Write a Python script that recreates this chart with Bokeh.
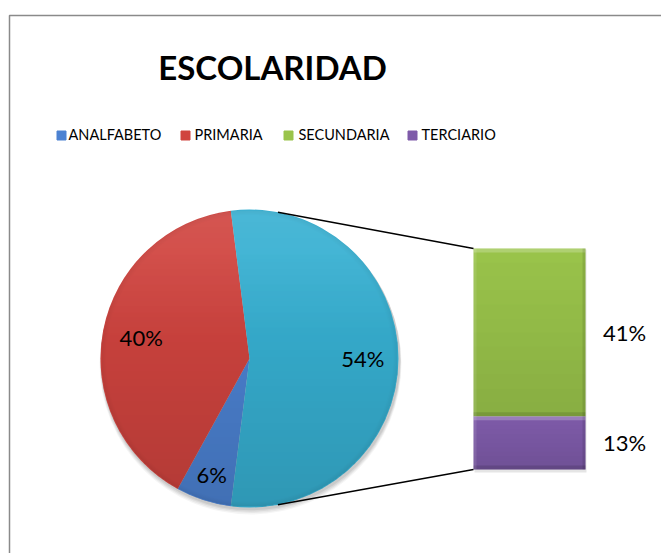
import math
import numpy as np
from bokeh.plotting import figure
from bokeh.models import Range1d, ColumnDataSource
from bokeh.core.properties import value
from bokeh.embed import file_html
from bokeh.resources import INLINE

# ---- data ----
title = "ESCOLARIDAD"
categories = ["ANALFABETO", "PRIMARIA", "SECUNDARIA", "TERCIARIO"]
percentages = [6, 40, 41, 13]
colors = ["#4C82D2", "#D0443F", "#9AC44B", "#7E5BA9"]
other_color = "#37B0D2"

FONT = "Lato"

# ---- layout (screen px) ----
W, H = 661, 553
p = figure(width=W, height=H, x_range=Range1d(0, W), y_range=Range1d(-H, 0),
           output_backend="svg", toolbar_location=None, min_border=0,
           x_axis_location=None, y_axis_location=None)
p.grid.visible = False
p.outline_line_color = None
p.background_fill_color = "white"
p.border_fill_color = "white"

# chart frame (cropped on right/bottom)
p.line(x=[9, 9, 700], y=[-600, -15, -15], line_color="#8A8A8A", line_width=1.5)

# title
p.text(x=[272], y=[-66], text=[title], text_font=value(FONT), text_font_style="bold",
       text_font_size="33px", text_align="center", text_baseline="middle", text_color="black")

# legend
leg_sq_x = [61, 185, 288, 412]
leg_tx_x = [68, 194, 298, 421]
p.scatter(x=leg_sq_x, y=[-135] * 4, marker="square", size=9, fill_color=colors,
          line_color=colors)
p.text(x=leg_tx_x, y=[-134] * 4, text=categories, text_font=value(FONT), text_font_size="14.5px",
       text_align="left", text_baseline="middle", text_color="black")

# ---- pie ----
cx, cy, R = 249, -358, 149
total = sum(percentages)
other = percentages[2] + percentages[3]
pie_vals = [percentages[0], percentages[1], other]
pie_cols = [colors[0], colors[1], other_color]
pie_texts = [f"{v}%" for v in pie_vals]

half = other / total * 180.0
starts, ends, mids = [], [], []
cur = -half
for v in pie_vals[:2]:
    e = cur
    s = cur - v / total * 360.0
    starts.append(s); ends.append(e); mids.append((s + e) / 2)
    cur = s
starts.append(-half); ends.append(half); mids.append(0.0)

# shadow
for k, a in [(5, 0.04), (4, 0.05), (3, 0.06), (2, 0.07)]:
    p.circle(x=[cx + 1], y=[cy - k], radius=R + k * 0.4, fill_color="black", fill_alpha=a,
             line_color=None)

src = ColumnDataSource(dict(s=[math.radians(a) for a in starts], e=[math.radians(a) for a in ends],
                            c=pie_cols))
p.wedge(x=cx, y=cy, radius=R, start_angle="s", end_angle="e", fill_color="c",
        line_color=None, source=src)

# vertical shading overlay (decoration: lighter top, darker bottom, soft rim)
n = 2 * R
yy, xx = np.mgrid[0:n, 0:n]
dx = xx + 0.5 - R
dy = yy + 0.5 - R
rr = np.sqrt(dx ** 2 + dy ** 2)
inside = rr <= R - 0.5
t = (yy + 0.5) / n  # 0 bottom .. 1 top
dark = np.clip(0.16 * (1 - t) - 0.02, 0, 1)
light = np.clip(0.10 * (t - 0.55) / 0.45, 0, 1)
rim = np.clip((rr - (R - 6)) / 6, 0, 1) * 0.06
alpha_d = np.where(inside, dark + rim, 0)
alpha_l = np.where(inside, light, 0)
img = np.zeros((n, n), dtype=np.uint32)
view = img.view(dtype=np.uint8).reshape((n, n, 4))
view[..., 3] = (alpha_d * 255).astype(np.uint8)
img2 = np.zeros((n, n), dtype=np.uint32)
view2 = img2.view(dtype=np.uint8).reshape((n, n, 4))
view2[..., 0] = 255; view2[..., 1] = 255; view2[..., 2] = 255
view2[..., 3] = (alpha_l * 255).astype(np.uint8)
p.image_rgba(image=[img], x=cx - R, y=cy - R, dw=n, dh=n)
p.image_rgba(image=[img2], x=cx - R, y=cy - R, dw=n, dh=n)

label_r = [0.82, 0.74, 0.76]
lx = [cx + label_r[i] * R * math.cos(math.radians(mids[i])) for i in range(3)]
ly = [cy + label_r[i] * R * math.sin(math.radians(mids[i])) for i in range(3)]
p.text(x=lx, y=ly, text=pie_texts, text_font=value(FONT), text_font_size="22px",
       text_align="center", text_baseline="middle", text_color="black")

# ---- bar of pie ----
bx0, bx1, by0, bar_h = 473, 585, -469, 221
scale = bar_h / other
bar_vals = [percentages[3], percentages[2]]        # bottom -> top
bar_cols = [colors[3], colors[2]]
bots, tops = [], []
base = by0
for v in bar_vals:
    bots.append(base); tops.append(base + v * scale); base += v * scale
# shadow
p.quad(left=bx0 + 1, right=bx1 + 1, bottom=by0 - 3, top=tops[-1] - 1, fill_color="black",
       fill_alpha=0.10, line_color=None)
p.quad(left=bx0, right=bx1, bottom=bots, top=tops, fill_color=bar_cols, line_color=None)
# vertical shading of each segment
for b, tp in zip(bots, tops):
    steps = 12
    hgt = (tp - b) / steps
    for k in range(steps):
        a = 0.14 * (1 - (k + 0.5) / steps)
        p.quad(left=bx0, right=bx1, bottom=b + k * hgt, top=b + (k + 1) * hgt,
               fill_color="black", fill_alpha=a * 0.8, line_color=None)
# bevel strips
p.quad(left=bx0, right=bx1, bottom=[tp - 4 for tp in tops], top=tops, fill_color="white",
       fill_alpha=0.22, line_color=None)
p.quad(left=bx0, right=bx1, bottom=bots, top=[b + 4 for b in bots], fill_color="black",
       fill_alpha=0.12, line_color=None)
p.quad(left=bx0, right=bx0 + 3, bottom=bots, top=tops, fill_color="white",
       fill_alpha=0.10, line_color=None)
p.quad(left=bx1 - 3, right=bx1, bottom=bots, top=tops, fill_color="black",
       fill_alpha=0.10, line_color=None)

bar_texts = [f"{v}%" for v in bar_vals]
p.text(x=[624, 624], y=[(b + tp) / 2 for b, tp in zip(bots, tops)], text=bar_texts,
       text_font=value(FONT), text_font_size="22px", text_align="center", text_baseline="middle",
       text_color="black")

# connector lines
ca = 79.0
p.line(x=[cx + R * math.cos(math.radians(ca)), bx0], y=[cy + R * math.sin(math.radians(ca)), tops[-1]],
       line_color="black", line_width=1.3)
p.line(x=[cx + R * math.cos(math.radians(-ca)), bx0], y=[cy + R * math.sin(math.radians(-ca)), bots[0]],
       line_color="black", line_width=1.3)

open("out.html", "w").write(file_html(p, INLINE))
